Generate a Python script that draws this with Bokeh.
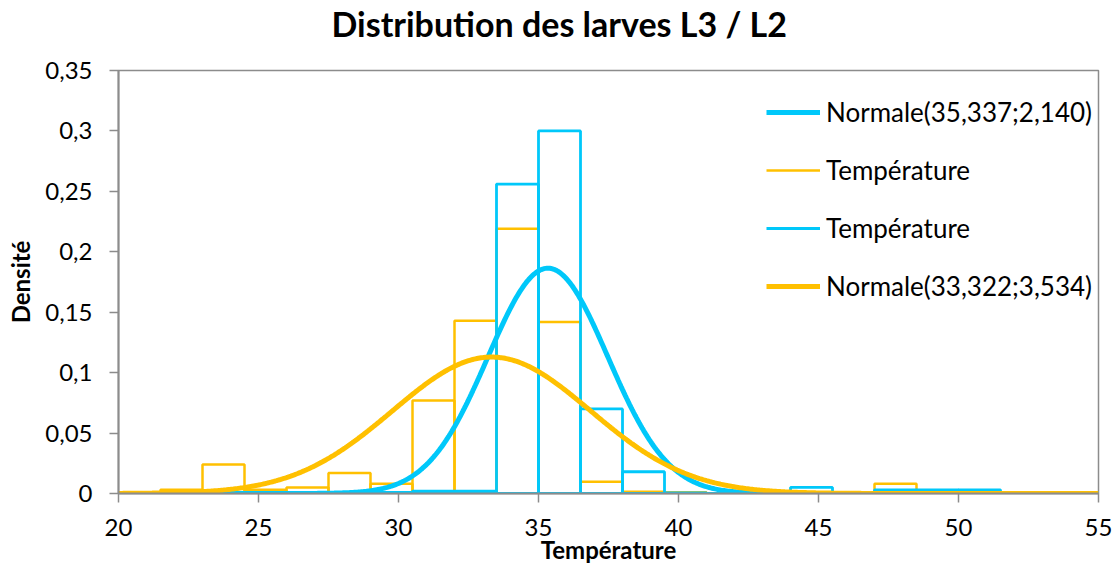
import math
from bokeh.plotting import figure
from bokeh.models import FixedTicker, Legend, LegendItem, LinearAxis
from bokeh.embed import file_html
from bokeh.resources import INLINE

# ---- data ----
bin_edges = [20, 21.5, 23, 24.5, 26, 27.5, 29, 30.5, 32, 33.5, 35, 36.5, 38, 39.5,
             41, 42.5, 44, 45.5, 47, 48.5, 50, 51.5, 53]
dens_L3 = [0, 0.003, 0.024, 0.003, 0.005, 0.017, 0.008, 0.077, 0.143, 0.219, 0.142,
           0.0097, 0.0015, 0.001, 0, 0, 0, 0, 0.008, 0, 0, 0]
dens_L2 = [0, 0, 0, 0.0005, 0.0005, 0, 0.001, 0.002, 0.002, 0.256, 0.300,
           0.070, 0.018, 0.0005, 0, 0, 0.005, 0, 0.003, 0.003, 0.003, 0]
norm_blue = (35.337, 2.140)
norm_yellow = (33.322, 3.534)
x_ticks = [20, 25, 30, 35, 40, 45, 50, 55]
y_ticks = [0, 0.05, 0.1, 0.15, 0.2, 0.25, 0.3, 0.35]
y_tick_labels = ["0", "0,05", "0,1", "0,15", "0,2", "0,25", "0,3", "0,35"]
title_text = "Distribution des larves L3 / L2"

BLUE = "#00C8FA"
YELLOW = "#FFC000"
GRAY = "#8C8C8C"
FONT = "Lato"

p = figure(width=1119, height=566, x_range=(20, 55), y_range=(0, 0.35),
           output_backend="svg", toolbar_location=None,
           min_border_left=118, min_border_right=21, min_border_top=69,
           min_border_bottom=72)
p.background_fill_color = "white"
p.border_fill_color = "white"
p.outline_line_color = GRAY
p.outline_line_width = 1.5
p.xgrid.visible = False
p.ygrid.visible = False

xax = p.below[0]
yax = p.left[0]

p.title.text = title_text
p.title.text_font = FONT
p.title.text_font_size = "34px"
p.title.text_font_style = "bold"
p.title.align = "left"
p.title.offset = 213
p.title.standoff = 0
p.title.text_color = "black"

# invisible top axis used only as vertical spacing between title and frame
spacer = LinearAxis(ticker=FixedTicker(ticks=[20]), axis_line_color=None,
                    major_tick_line_color=None, minor_tick_line_color=None,
                    major_label_overrides={20: ""},
                    major_label_text_font_size="1px",
                    major_tick_out=27, major_tick_in=0, major_label_standoff=0)
p.add_layout(spacer, "above")

def hist_paths(edges, vals):
    xs, ys = [], []
    for i, v in enumerate(vals):
        l, r = edges[i], edges[i + 1]
        xs.append([l, l, r, r, l])
        ys.append([0, v, v, 0, 0])
    return xs, ys

xs_y, ys_y = hist_paths(bin_edges, dens_L3)
xs_b, ys_b = hist_paths(bin_edges, dens_L2)
h_yellow = p.multi_line(xs_y, ys_y, line_color=YELLOW, line_width=2.5)
h_blue = p.multi_line(xs_b, ys_b, line_color=BLUE, line_width=2.8)

def normal_curve(mu, sd):
    xs = [20 + i * 0.05 for i in range(701)]
    ys = [math.exp(-0.5 * ((x - mu) / sd) ** 2) / (sd * math.sqrt(2 * math.pi)) for x in xs]
    return xs, ys

bx, by = normal_curve(*norm_blue)
yx, yy = normal_curve(*norm_yellow)
c_blue = p.line(bx, by, line_color=BLUE, line_width=5)
c_yellow = p.line(yx, yy, line_color=YELLOW, line_width=5)

legend = Legend(items=[
    LegendItem(label="Normale(35,337;2,140)", renderers=[c_blue]),
    LegendItem(label="Température", renderers=[h_yellow]),
    LegendItem(label="Température", renderers=[h_blue]),
    LegendItem(label="Normale(33,322;3,534)", renderers=[c_yellow]),
], location=(648, 191))
legend.border_line_color = None
legend.background_fill_alpha = 0
legend.padding = 0
legend.margin = 0
legend.spacing = 26
legend.glyph_width = 54
legend.glyph_height = 26
legend.label_height = 26
legend.label_standoff = 6
legend.label_text_font = FONT
legend.label_text_font_size = "26px"
legend.label_text_color = "black"
p.add_layout(legend, "center")

for ax in (xax, yax):
    ax.axis_line_color = GRAY
    ax.axis_line_width = 2
    ax.major_tick_line_color = GRAY
    ax.major_tick_line_width = 1.5
    ax.major_tick_out = 9
    ax.major_tick_in = 0
    ax.minor_tick_line_color = None
    ax.major_label_text_font = FONT
    ax.major_label_text_font_size = "24px"
    ax.major_label_text_color = "black"
    ax.axis_label_text_font = FONT
    ax.axis_label_text_font_style = "bold"
    ax.axis_label_text_font_size = "24px"
    ax.axis_label_text_color = "black"

xax.ticker = FixedTicker(ticks=x_ticks)
yax.ticker = FixedTicker(ticks=y_ticks)
yax.major_label_overrides = {t: s for t, s in zip(y_ticks, y_tick_labels)}
xax.axis_label = "Température"
yax.axis_label = "Densité"
xax.major_label_standoff = 16
yax.major_label_standoff = 17
xax.axis_label_standoff = -4
yax.axis_label_standoff = 7

open("out.html", "w").write(file_html(p, INLINE))
